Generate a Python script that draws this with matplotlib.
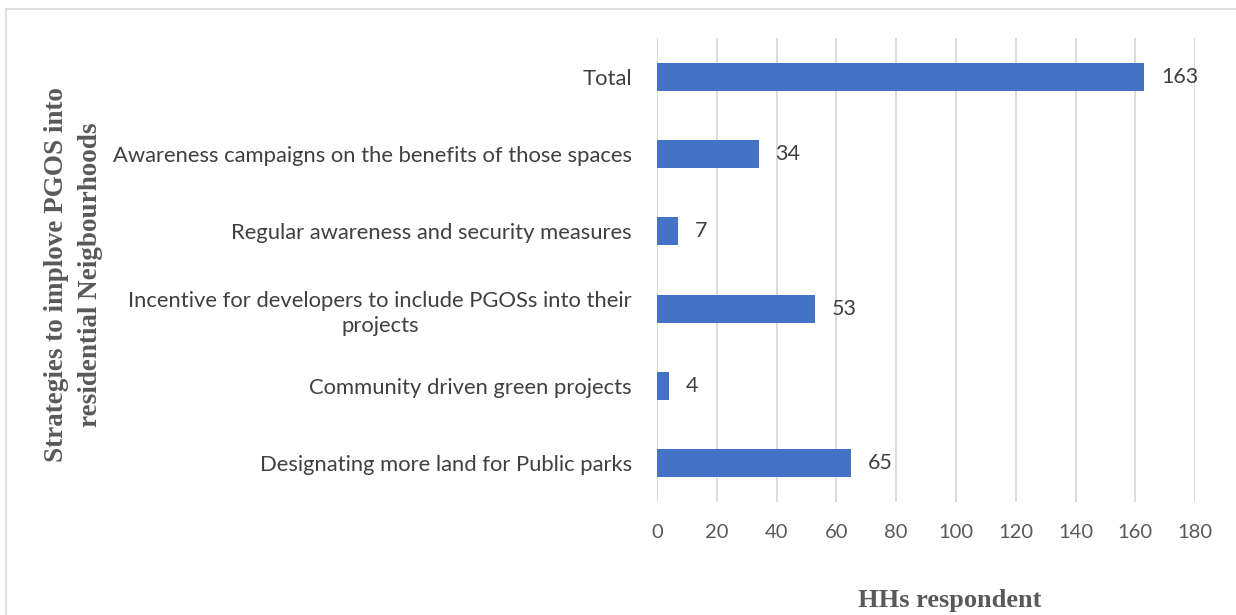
import matplotlib.pyplot as plt
from matplotlib.lines import Line2D

categories = ['Designating more land for Public parks',
              'Community driven green projects',
              'Incentive for developers to include PGOSs into their\nprojects',
              'Regular awareness and security measures',
              'Awareness campaigns on the benefits of those spaces',
              'Total']
values = [65, 4, 53, 7, 34, 163]
xticks = [0, 20, 40, 60, 80, 100, 120, 140, 160, 180]

fig = plt.figure(figsize=(12.36, 6.15), dpi=100)
ax = fig.add_axes([0.5316, 0.1837, 0.4353, 0.7545])

pos = list(range(len(categories)))
ax.barh(pos, values, height=0.36, color='#4472C4', zorder=3)
for p, v in zip(pos, values):
    ax.annotate(str(v), (v, p), xytext=(12, 0), textcoords='offset points',
                va='center', ha='left', fontsize=15.5, color='#404040', family='Lato')

ax.set_xlim(0, 180)
ax.set_ylim(-0.5, 5.5)
ax.set_xticks(xticks)
ax.set_yticks(pos)
ax.set_yticklabels(categories, fontsize=15.8, color='#404040', family='Lato',
                   linespacing=1.35)
ax.tick_params(axis='y', length=0, pad=18)
ax.tick_params(axis='x', length=0, pad=16, labelsize=14.5, labelcolor='#595959')
for lab in ax.get_xticklabels():
    lab.set_family('Lato')
for lab in ax.get_yticklabels():
    lab.set_multialignment('center')
ax.xaxis.grid(True, color='#D9D9D9', linewidth=1.3, zorder=0)
for s in ax.spines.values():
    s.set_visible(False)

fig.text(57 / 1236, 0.553, 'Strategies to implove PGOS into',
         rotation=90, ha='center', va='center', fontsize=19.5, fontweight='bold',
         family='Liberation Serif', color='#595959')
fig.text(91 / 1236, 0.553, 'residential Neigbourhoods',
         rotation=90, ha='center', va='center', fontsize=19.5, fontweight='bold',
         family='Liberation Serif', color='#595959')
fig.text(0.7686, 0.024, 'HHs respondent', ha='center', va='center', fontsize=19,
         fontweight='bold', family='Liberation Serif', color='#595959')

fig.add_artist(Line2D([6 / 1236, 1], [1 - 9 / 615, 1 - 9 / 615], transform=fig.transFigure,
                      color='#D9D9D9', linewidth=1.2))
fig.add_artist(Line2D([6 / 1236, 6 / 1236], [0, 1 - 9 / 615], transform=fig.transFigure,
                      color='#D9D9D9', linewidth=1.2))

fig.savefig('out.png', dpi=100)
